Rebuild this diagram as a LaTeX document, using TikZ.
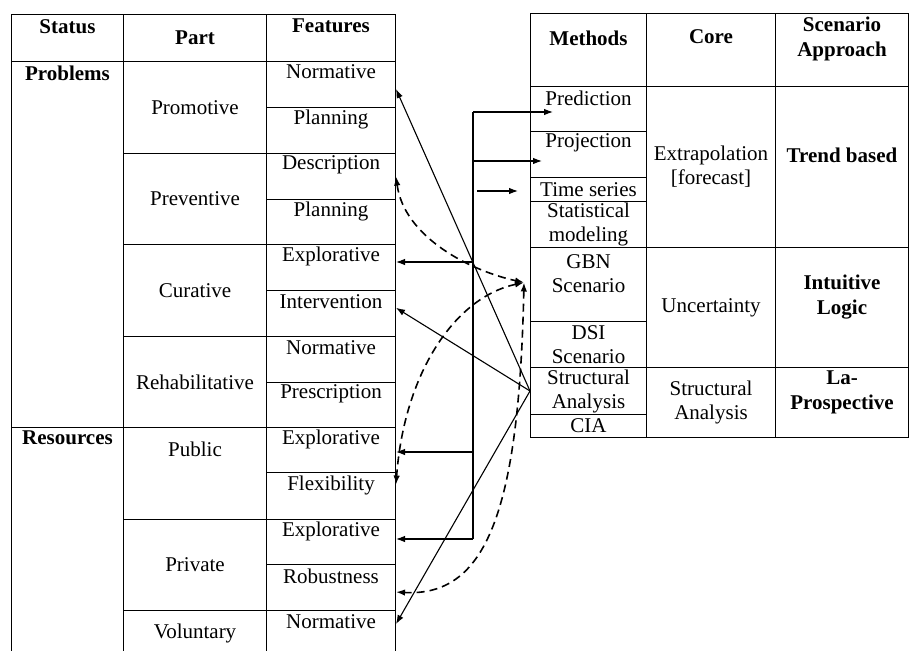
\documentclass[tikz,border=0pt]{standalone}
\usepackage{fontspec}
\setmainfont{Liberation Serif}
\usetikzlibrary{arrows.meta,calc,positioning}

\tikzset{
  cell/.style={draw, line width=1pt, inner sep=0pt, anchor=north west, align=center},
  tl/.style={anchor=center, yshift=-#1, align=center, inner sep=0pt},
  bf/.style={font=\fontsize{21}{25}\selectfont\bfseries},
  link/.style={line width=1.1pt},
  dlink/.style={line width=1.6pt, dash pattern=on 8pt off 5pt, <->},
}

\begin{document}
\begin{tikzpicture}[x=1pt, y=-1pt, font=\fontsize{21}{24}\selectfont,
                    >={Latex[length=9pt,width=6.5pt]}]

  \useasboundingbox (0,0) rectangle (909,650);
  \clip (0,0) rectangle (909,650);
%
  % left table
  \node[cell, minimum width=112pt, minimum height=47pt, label={[tl=13,bf]north:Status}] (hStatus) at (11,14) {};
  \node[cell, minimum width=143pt, minimum height=47pt, bf] (hPart) at (123,14) {Part};
  \node[cell, minimum width=129pt, minimum height=47pt, label={[tl=12,bf]north:Features}] (hFeat) at (266,14) {};
%
  \node[cell, minimum width=112pt, minimum height=366pt, label={[tl=12,bf]north:Problems}] (sProb) at (11,61) {};
  \node[cell, minimum width=112pt, minimum height=280pt, label={[tl=11,bf]north:Resources}] (sRes) at (11,427) {};
%
  \node[cell, minimum width=143pt, minimum height=92pt] (pPromo) at (123,61) {Promotive};
  \node[cell, minimum width=143pt, minimum height=91pt] (pPrev) at (123,153) {Preventive};
  \node[cell, minimum width=143pt, minimum height=92pt] (pCur) at (123,244) {Curative};
  \node[cell, minimum width=143pt, minimum height=91pt] (pRehab) at (123,336) {Rehabilitative};
  \node[cell, minimum width=143pt, minimum height=92pt, label={[tl=22]north:Public}] (pPub) at (123,427) {};
  \node[cell, minimum width=143pt, minimum height=91pt] (pPriv) at (123,519) {Private};
  \node[cell, minimum width=143pt, minimum height=90pt, label={[tl=23]north:Voluntary}] (pVol) at (123,610) {};
%
  \node[cell, minimum width=129pt, minimum height=46pt, label={[tl=11]north:Normative}] (fe1) at (266,61) {};
  \node[cell, minimum width=129pt, minimum height=46pt, label={[tl=12]north:Planning}] (fe2) at (266,107) {};
  \node[cell, minimum width=129pt, minimum height=46pt, label={[tl=12]north:Description}] (fe3) at (266,153) {};
  \node[cell, minimum width=129pt, minimum height=45pt, label={[tl=12]north:Planning}] (fe4) at (266,199) {};
  \node[cell, minimum width=129pt, minimum height=46pt, label={[tl=12]north:Explorative}] (fe5) at (266,244) {};
  \node[cell, minimum width=129pt, minimum height=46pt, label={[tl=12]north:Intervention}] (fe6) at (266,290) {};
  \node[cell, minimum width=129pt, minimum height=46pt, label={[tl=12]north:Normative}] (fe7) at (266,336) {};
  \node[cell, minimum width=129pt, minimum height=45pt, label={[tl=12]north:Prescription}] (fe8) at (266,382) {};
  \node[cell, minimum width=129pt, minimum height=45pt, label={[tl=12]north:Explorative}] (fe9) at (266,427) {};
  \node[cell, minimum width=129pt, minimum height=47pt, label={[tl=13]north:Flexibility}] (fe10) at (266,472) {};
  \node[cell, minimum width=129pt, minimum height=45pt, label={[tl=12]north:Explorative}] (fe11) at (266,519) {};
  \node[cell, minimum width=129pt, minimum height=46pt, label={[tl=12]north:Robustness}] (fe12) at (266,564) {};
  \node[cell, minimum width=129pt, minimum height=50pt, label={[tl=12]north:Normative}] (fe13) at (266,610) {};
%
  % right table
  \node[cell, minimum width=116pt, minimum height=73pt, label={[tl=25,bf]north:Methods}] (hMeth) at (530,13) {};
  \node[cell, minimum width=129pt, minimum height=73pt, label={[tl=24,bf]north:Core}] (hCore) at (646,13) {};
  \node[cell, minimum width=133pt, minimum height=73pt, label={[tl=26,bf]north:Scenario\\Approach}] (hScen) at (775,13) {};
%
  \node[cell, minimum width=116pt, minimum height=45pt, label={[tl=12]north:Prediction}] (m1) at (530,86) {};
  \node[cell, minimum width=116pt, minimum height=46pt, label={[tl=12]north:Projection}] (m2) at (530,131) {};
  \node[cell, minimum width=116pt, minimum height=24pt] (m3) at (530,177) {Time series};
  \node[cell, minimum width=116pt, minimum height=46pt] (m4) at (530,201) {Statistical\\modeling};
  \node[cell, minimum width=116pt, minimum height=74pt, label={[tl=27]north:GBN\\Scenario}] (m5) at (530,247) {};
  \node[cell, minimum width=116pt, minimum height=46pt] (m6) at (530,321) {DSI\\Scenario};
  \node[cell, minimum width=116pt, minimum height=47pt] (m7) at (530,367) {Structural\\Analysis};
  \node[cell, minimum width=116pt, minimum height=23pt] (m8) at (530,414) {CIA};
%
  \node[cell, minimum width=129pt, minimum height=161pt] (c1) at (646,86) {Extrapolation\\{[forecast]}};
  \node[cell, minimum width=129pt, minimum height=120pt] (c2) at (646,247) {Uncertainty};
  \node[cell, minimum width=129pt, minimum height=70pt] (c3) at (646,367) {Structural\\Analysis};
%
  \node[cell, minimum width=133pt, minimum height=161pt, label={[tl=69,bf]north:Trend based}] (s1) at (775,86) {};
  \node[cell, minimum width=133pt, minimum height=120pt, label={[tl=50,bf]north:Intuitive\\Logic}] (s2) at (775,247) {};
  \node[cell, minimum width=133pt, minimum height=70pt, label={[tl=25,bf]north:La-\\Prospective}] (s3) at (775,367) {};
%
  % spine of the solid links
  \coordinate (spTop) at (473,112);
  \coordinate (spProj) at (473,161);
  \coordinate (spCur) at (473,262);
  \coordinate (spPub) at (473,452);
  \coordinate (spBot) at (473,539);
  \coordinate (predTip) at (553,112);
  \coordinate (projTip) at (542,161);
  \coordinate (tsTail) at (477,191);
  \coordinate (tsTip) at (518,191);
%
  \draw [link] (spTop) -- (spBot) ;
  \draw [link,->] (spTop) -- (predTip) ;
  \draw [link,->] (spProj) -- (projTip) ;
  \draw [link,->] (tsTail) -- (tsTip) ;
  \draw [link,->] (spCur) -- (spCur -| fe5.east) ;
  \draw [link,->] (spPub) -- (spPub -| fe9.east) ;
  \draw [link,->] (spBot) -- (spBot -| fe11.east) ;
%
  \draw [link,->] (m7.west) -- (fe1.-4) ;
  \draw [link,->] (m7.west) -- (fe6.5) ;
  \draw [link,->] (m7.west) -- (fe13.10) ;
%
  % dashed links to GBN
  \coordinate (gbStar) at ($(m5.west)+(-6,-2)$);
  \draw [dlink] (fe3.east) .. controls +(8,60) and +(-55,-12) .. (gbStar) ;
  \draw [dlink] (gbStar) .. controls +(-70,15) and +(8,-110) .. (fe10.10) ;
  \draw [dlink] (gbStar) .. controls +(-5,230) and +(90,5) .. (fe12.-4) ;

\end{tikzpicture}
\end{document}
